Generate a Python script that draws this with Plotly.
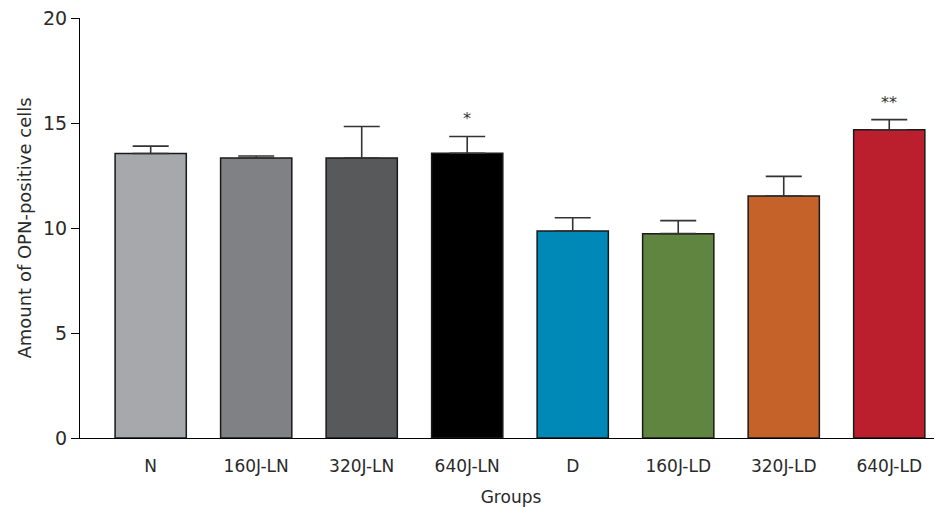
import plotly.graph_objects as go

groups = ["N", "160J-LN", "320J-LN", "640J-LN", "D", "160J-LD", "320J-LD", "640J-LD"]
means = [13.55, 13.33, 13.33, 13.56, 9.86, 9.73, 11.52, 14.68]
errors = [0.35, 0.10, 1.50, 0.80, 0.63, 0.62, 0.94, 0.48]
colors = ["#a7a8ab", "#808184", "#58595b", "#000000", "#0089b6", "#5f8540", "#c5622a", "#bb1f2d"]
marks = ["", "", "", "*", "", "", "", "**"]
y_ticks = [0, 5, 10, 15, 20]

FONT = "DejaVu Sans"

fig = go.Figure()
fig.add_trace(go.Bar(
    x=list(range(len(groups))),
    y=means,
    width=0.675,
    marker=dict(color=colors, line=dict(color="#1a1a1a", width=1.5)),
    error_y=dict(type="data", array=errors, arrayminus=[0] * len(errors), symmetric=False,
                 color="#333333", thickness=1.6, width=18),
    showlegend=False,
    hoverinfo="skip",
))

for i, (m, e, s) in enumerate(zip(means, errors, marks)):
    if s:
        fig.add_annotation(x=i, y=m + e, text=s, showarrow=False, yanchor="bottom",
                           yshift=6, font=dict(family=FONT, size=16, color="#333333"))

fig.update_layout(
    width=942, height=507,
    margin=dict(l=72, r=8, t=10, b=77),
    plot_bgcolor="white", paper_bgcolor="white",
    font=dict(family=FONT, size=17, color="#2a2a2a"),
    bargap=0.3,
)
fig.update_xaxes(
    range=[-0.67, 7.5], automargin=False,
    tickmode="array", tickvals=list(range(len(groups))), ticktext=groups,
    showline=True, linecolor="#000000", linewidth=1.2,
    ticks="outside", ticklen=12, tickcolor="rgba(0,0,0,0)",
    showgrid=False, zeroline=False,
    title=dict(text="Groups", font=dict(family=FONT, size=17), standoff=16),
    tickfont=dict(family=FONT, size=17),
)
fig.update_yaxes(
    range=[0, 20], automargin=False, ticklabeloverflow="allow",
    tickmode="array", tickvals=y_ticks,
    showline=True, linecolor="#000000", linewidth=1.2,
    ticks="outside", ticklen=8, tickcolor="#000000", tickwidth=1.2,
    showgrid=False, zeroline=False,
    title=dict(text="Amount of OPN-positive cells", font=dict(family=FONT, size=18), standoff=6),
    tickfont=dict(family=FONT, size=19),
)

fig.write_html("out.html")
